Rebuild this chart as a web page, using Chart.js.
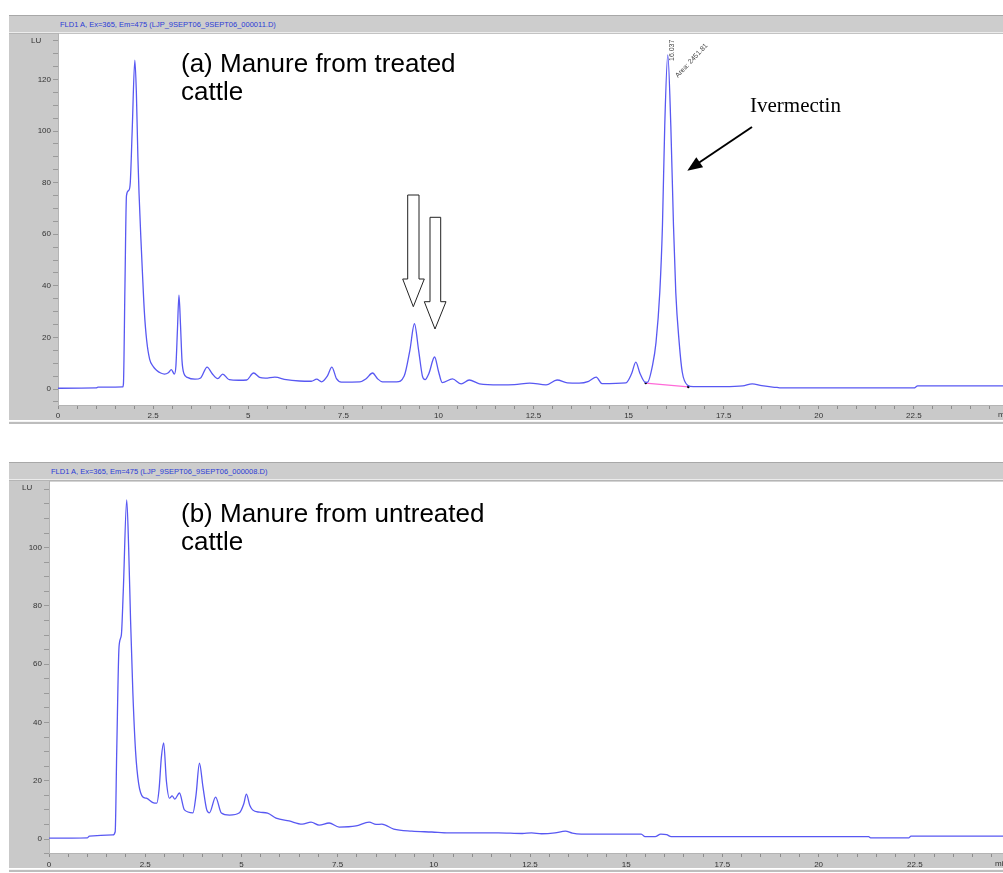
<!DOCTYPE html>
<html>
<head>
<meta charset="utf-8">
<script src="https://cdn.jsdelivr.net/npm/chart.js@4.4.1/dist/chart.umd.min.js"></script>
<style>
  html, body { margin: 0; padding: 0; background: #fff; overflow: hidden; }
  body { width: 1003px; height: 873px; position: relative; font-family: "Liberation Sans", Arial, sans-serif; }
  .frame { position: absolute; left: 9px; width: 1010px; background: #c9c9c9; }
  .head { position: absolute; left: 0; right: 0; top: 0; background: #cdcdcd;
          border-top: 1px solid #a8a8a8; border-bottom: 1px solid #ececec; box-shadow: 0 1px 0 #b5b5b5; }
  .head span { position: absolute; font-size: 7.5px; color: #2b3bd6; white-space: nowrap; }
  .sep { position: absolute; left: 9px; width: 1010px; height: 2px; background: #bdbdbd; border-top: 1px solid #f4f4f4; }
  canvas { position: absolute; left: 0; }
  .lu { position: absolute; font-size: 8px; color: #333; }
  .unit { position: absolute; font-size: 8px; color: #333; }
  .cap { position: absolute; left: 181px; font-size: 26px; line-height: 28px; color: #000; white-space: nowrap; }
  #ann { position: absolute; left: 0; top: 0; }
</style>
</head>
<body>

<div class="frame" style="top:15px;height:405px;">
  <div class="head" style="height:16px;"><span style="left:51px;top:4px;">FLD1 A, Ex=365, Em=475 (LJP_9SEPT06_9SEPT06_000011.D)</span></div>
</div>
<div class="sep" style="top:421px;"></div>

<div class="frame" style="top:462px;height:406px;">
  <div class="head" style="height:16px;"><span style="left:42px;top:4px;">FLD1 A, Ex=365, Em=475 (LJP_9SEPT06_9SEPT06_000008.D)</span></div>
</div>
<div class="sep" style="top:869px;"></div>

<canvas id="chartA" width="1013" height="400" style="top:27px;"></canvas>
<canvas id="chartB" width="1014" height="396" style="top:475px;"></canvas>

<div class="lu" style="left:31px;top:36px;">LU</div>
<div class="lu" style="left:22px;top:483px;">LU</div>
<div class="unit" style="left:998px;top:410px;">min</div>
<div class="unit" style="left:995px;top:859px;">min</div>

<div class="cap" style="top:49px;">(a) Manure from treated<br>cattle</div>
<div class="cap" style="top:499px;">(b) Manure from untreated<br>cattle</div>

<svg id="ann" width="1003" height="873">
  <!-- hollow arrows over the two small peaks -->
  <polygon points="407.7,195 419,195 419,279 424.3,279 413.3,306.7 402.7,279 407.7,279"
           fill="#fff" stroke="#222" stroke-width="1"/>
  <polygon points="430,217.3 440.7,217.3 440.7,301.7 446,301.7 435,329 424.3,301.7 430,301.7"
           fill="#fff" stroke="#222" stroke-width="1"/>
  <!-- ivermectin pointer -->
  <line x1="752" y1="127" x2="697" y2="164" stroke="#000" stroke-width="2"/>
  <polygon points="687.3,170.7 703.1,167.3 696.3,157.3" fill="#000"/>
  <text x="750" y="112" font-family="Liberation Serif, Times New Roman, serif" font-size="21" fill="#000">Ivermectin</text>
  <!-- peak integration labels -->
  <text transform="translate(674,61) rotate(-90)" font-size="7" fill="#444"
        font-family="Liberation Sans, Arial, sans-serif">16.037</text>
  <text transform="translate(678,78) rotate(-47)" font-size="7" fill="#444"
        font-family="Liberation Sans, Arial, sans-serif">Area: 2451.81</text>
</svg>

<script>
// (a) treated cattle: retention time (min) and response (LU)
const timeA = [0, 1.0, 1.05, 1.7, 1.72, 1.76, 1.8, 1.86, 1.9, 1.95, 2.02, 2.06, 2.1, 2.13, 2.18, 2.22,
  2.27, 2.33, 2.41, 2.5, 2.59, 2.7, 2.8, 2.9, 2.98, 3.06, 3.1, 3.14, 3.18, 3.22, 3.26, 3.31, 3.4, 3.6, 3.75,
  3.92, 4.05, 4.2, 4.33, 4.5, 4.75, 4.96, 5.14, 5.3, 5.45, 5.7, 6.0, 6.35, 6.66, 6.8, 6.93, 7.08,
  7.2, 7.32, 7.45, 7.93, 8.1, 8.27, 8.4, 8.53, 8.9, 9.1, 9.25, 9.37, 9.48, 9.58, 9.65, 9.75, 9.9,
  10.0, 10.1, 10.37, 10.6, 10.81, 11.08, 11.6, 12.0, 12.4, 12.83, 13.12, 13.39, 13.7, 13.95, 14.15,
  14.3, 14.93, 15.08, 15.19, 15.3, 15.44, 15.5, 15.63, 15.72, 15.82, 15.89, 15.95, 16.03, 16.11,
  16.18, 16.24, 16.33, 16.41, 16.55, 16.7, 17.5, 18.0, 18.25, 18.5, 18.9, 19.0, 22.5, 22.6, 25];
const signalA = [0.3, 0.4, 0.7, 0.8, 2, 40, 75, 77, 80, 100, 127.5, 115, 90, 76, 58, 45,
  30, 19, 11.5, 8.8, 7.3, 6.2, 5.8, 6.3, 7.5, 5.8, 9, 23, 36.4, 25, 11, 6, 4.5, 3.8, 4.3,
  8.5, 6, 4, 5.8, 3.6, 3.4, 3.5, 6.2, 4.5, 4.2, 4.6, 3.6, 3.1, 3.0, 3.8, 2.8, 5,
  8.5, 4, 2.7, 2.8, 4, 6.2, 4, 2.8, 2.8, 5, 15, 25.3, 15, 5, 3.6, 6, 12.4,
  7, 2.5, 3.9, 2.0, 3.5, 2.0, 1.6, 1.7, 2.3, 1.6, 3.5, 2.4, 2.3, 3, 4.6,
  2.1, 2.4, 6, 10.4, 6, 2.6, 2.7, 9.3, 18, 37.5, 63.4, 102, 129.5, 102,
  63.4, 37.5, 18, 6.6, 1.5, 0.9, 0.9, 1.2, 2, 1.3, 0.6, 0.4, 0.4, 1.2, 1.2];
// integration baseline under the ivermectin peak
const baseTimeA = [15.45, 16.57];
const baseSignalA = [2.3, 0.8];

// (b) untreated cattle
const timeB = [0, 1.0, 1.05, 1.66, 1.72, 1.76, 1.82, 1.88, 1.93, 2.02, 2.07, 2.12, 2.18, 2.25, 2.33,
  2.44, 2.53, 2.7, 2.8, 2.86, 2.92, 2.98, 3.05, 3.13, 3.2, 3.27, 3.39, 3.52, 3.74, 3.82, 3.91, 4.0,
  4.1, 4.17, 4.33, 4.48, 4.69, 4.95, 5.06, 5.13, 5.22, 5.29, 5.47, 5.68, 5.9, 6.24, 6.58, 6.81,
  7.02, 7.28, 7.54, 7.98, 8.32, 8.5, 8.65, 8.96, 9.43, 9.95, 10.39, 11.68, 12.3, 12.54, 12.8,
  13.15, 13.42, 13.6, 13.83, 15.39, 15.49, 15.75, 15.9, 16.05, 16.17, 21.3, 21.35, 22.35, 22.4, 25];
const signalB = [0.3, 0.4, 1.0, 1.4, 2.5, 30, 66, 70, 85, 116.4, 100, 75, 50, 30, 19,
  14.4, 14, 12.5, 12.3, 17, 28, 33, 20, 14, 14.8, 13.7, 15.8, 10, 9, 15, 26, 18,
  10, 9, 14.4, 8.9, 8.2, 9, 12, 15.4, 11.5, 10, 9.2, 8.9, 7.2, 6.2, 5.1, 5.8,
  4.8, 5.5, 4.1, 4.5, 5.8, 5, 5.1, 3.4, 2.7, 2.4, 2.1, 2.1, 1.9, 2.1, 1.8,
  2.1, 2.7, 2.0, 1.7, 1.7, 0.8, 0.8, 1.7, 1.5, 0.8, 0.8, 0.4, 0.4, 1.0, 1.0];

// labelled ticks
const xLabelTicks = [0, 2.5, 5, 7.5, 10, 12.5, 15, 17.5, 20, 22.5];
const yLabelTicksA = [0, 20, 40, 60, 80, 100, 120];
const yLabelTicksB = [0, 20, 40, 60, 80, 100];

const TRACE = 'rgb(88,88,242)';
const tickFont = { family: 'Liberation Sans, Arial, sans-serif', size: 8 };

function pts(ts, vs) { return ts.map((t, i) => ({ x: t, y: vs[i] })); }

function range(lo, hi, step) {
  const out = [];
  for (let v = lo; v <= hi + 1e-9; v += step) out.push(Math.round(v * 100) / 100);
  return out;
}

// white plotting field inside the grey instrument frame
const plotField = {
  id: 'plotField',
  beforeDraw(chart) {
    const a = chart.chartArea, c = chart.ctx;
    c.save();
    c.fillStyle = '#fff';
    c.fillRect(a.left, a.top, a.right - a.left + 10, a.bottom - a.top);
    c.restore();
  }
};

function makeChart(id, datasets, cfg) {
  return new Chart(document.getElementById(id), {
    type: 'line',
    data: { datasets },
    plugins: [plotField],
    options: {
      responsive: false,
      animation: false,
      layout: { padding: { top: 6, right: 0, bottom: 0, left: 0 } },
      plugins: { legend: { display: false }, tooltip: { enabled: false } },
      elements: { point: { radius: 0 } },
      scales: {
        x: {
          type: 'linear', min: 0, max: 25,
          afterFit(s) { s.height = cfg.xHeight; },
          afterBuildTicks(s) { s.ticks = range(0, 25, 0.5).map(v => ({ value: v })); },
          ticks: {
            autoSkip: false, maxRotation: 0, minRotation: 0, padding: cfg.xPad,
            font: tickFont, color: '#333',
            callback: v => xLabelTicks.includes(v) ? String(v) : ''
          },
          grid: { drawOnChartArea: false, tickLength: 4, color: '#8c8c8c' },
          border: { color: '#b4b4b4' }
        },
        y: {
          type: 'linear', min: cfg.yMin, max: cfg.yMax,
          afterFit(s) { s.width = cfg.yWidth; },
          afterBuildTicks(s) { s.ticks = range(-5, cfg.yMax, 5).map(v => ({ value: v })); },
          ticks: {
            autoSkip: false, padding: 2, font: tickFont, color: '#333',
            callback: v => cfg.yLabels.includes(v) ? String(v) : ''
          },
          grid: { drawOnChartArea: false, tickLength: 5, color: '#9a9a9a' },
          border: { color: '#b4b4b4' }
        }
      }
    }
  });
}

makeChart('chartA', [
  {
    data: pts(timeA, signalA), borderColor: TRACE, borderWidth: 1.3,
    cubicInterpolationMode: 'monotone', pointRadius: 0
  },
  {
    data: pts(baseTimeA, baseSignalA), borderColor: '#ff6ad8', borderWidth: 1.2,
    pointRadius: 1.2, pointBackgroundColor: '#000', pointBorderWidth: 0
  }
], { yMin: -6.2, yMax: 137.7, yWidth: 58, xHeight: 22, xPad: 2, yLabels: yLabelTicksA });

makeChart('chartB', [
  {
    data: pts(timeB, signalB), borderColor: TRACE, borderWidth: 1.3,
    cubicInterpolationMode: 'monotone', pointRadius: 0
  }
], { yMin: -4.8, yMax: 122.6, yWidth: 49, xHeight: 18, xPad: 3, yLabels: yLabelTicksB });
</script>
</body>
</html>
